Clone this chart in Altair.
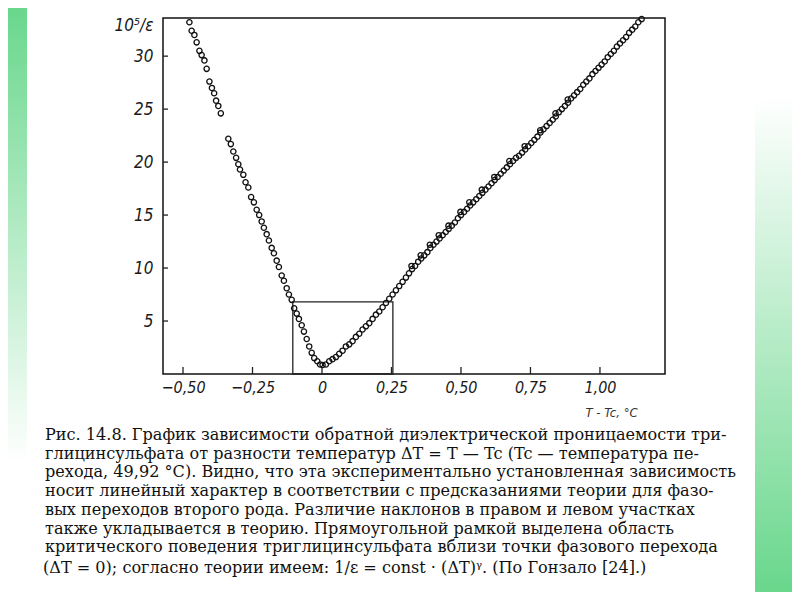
import altair as alt
import pandas as pd

# ---- data ----------------------------------------------------------------
left_dt = [-0.477, -0.469, -0.459, -0.451, -0.441, -0.433, -0.423, -0.415, -0.405, -0.396,
           -0.388, -0.381, -0.373, -0.364, -0.337, -0.328, -0.319, -0.309, -0.301, -0.295,
           -0.283, -0.275, -0.265, -0.255, -0.245, -0.235, -0.226, -0.217, -0.209, -0.199,
           -0.191, -0.181, -0.173, -0.163, -0.155, -0.145, -0.137, -0.127, -0.119, -0.109,
           -0.100, -0.091, -0.083, -0.073, -0.065, -0.055, -0.046, -0.037, -0.028, -0.017,
           -0.007, 0.002]
left_inv_eps = [33.2, 32.4, 32.0, 31.3, 30.5, 30.1, 29.6, 28.8, 27.6, 27.0,
                26.5, 25.8, 25.3, 24.6, 22.2, 21.7, 21.0, 20.4, 19.8, 19.3,
                18.8, 18.1, 17.6, 16.7, 16.2, 15.5, 15.0, 14.4, 13.8, 13.2,
                12.6, 11.9, 11.4, 10.7, 10.1, 9.3, 8.8, 8.1, 7.5, 7.0,
                6.2, 5.7, 5.2, 4.6, 4.0, 3.3, 2.6, 2.0, 1.5, 1.2,
                0.9, 0.85]

right_dt = [0.014, 0.026, 0.038, 0.050, 0.062, 0.074, 0.086, 0.098, 0.110, 0.122,
            0.134, 0.146, 0.158, 0.170, 0.182, 0.194, 0.206, 0.218, 0.230, 0.242,
            0.254, 0.266, 0.278, 0.290, 0.302, 0.313, 0.324, 0.322, 0.335, 0.346,
            0.357, 0.355, 0.368, 0.379, 0.390, 0.388, 0.401, 0.412, 0.423, 0.420,
            0.434, 0.445, 0.456, 0.455, 0.467, 0.478, 0.489, 0.500, 0.498, 0.511,
            0.522, 0.533, 0.530, 0.544, 0.555, 0.566, 0.577, 0.575, 0.588, 0.599,
            0.610, 0.621, 0.620, 0.632, 0.643, 0.654, 0.665, 0.676, 0.674, 0.687,
            0.698, 0.709, 0.720, 0.731, 0.729, 0.742, 0.753, 0.764, 0.775, 0.786,
            0.785, 0.797, 0.808, 0.819, 0.830, 0.841, 0.840, 0.852, 0.863, 0.874,
            0.885, 0.884, 0.896, 0.907, 0.918, 0.929, 0.940, 0.951, 0.962, 0.973,
            0.984, 0.995, 1.006, 1.017, 1.028, 1.039, 1.050, 1.061, 1.072, 1.083,
            1.094, 1.105, 1.116, 1.127, 1.138, 1.150]
right_inv_eps = [0.9, 1.2, 1.4, 1.6, 1.9, 2.2, 2.6, 2.8, 3.1, 3.5,
                 3.8, 4.2, 4.5, 4.8, 5.2, 5.6, 5.9, 6.3, 6.7, 7.1,
                 7.5, 7.9, 8.3, 8.7, 9.1, 9.5, 9.9, 10.2, 10.2, 10.6,
                 10.9, 11.2, 11.2, 11.5, 11.9, 12.2, 12.2, 12.5, 12.8, 13.1,
                 13.1, 13.4, 13.7, 14.0, 14.0, 14.3, 14.7, 15.0, 15.3, 15.3,
                 15.6, 15.9, 16.2, 16.2, 16.5, 16.8, 17.1, 17.4, 17.4, 17.7,
                 18.0, 18.3, 18.6, 18.6, 18.9, 19.2, 19.5, 19.8, 20.1, 20.1,
                 20.4, 20.6, 20.9, 21.2, 21.5, 21.5, 21.8, 22.1, 22.4, 22.8,
                 23.0, 23.1, 23.4, 23.7, 24.0, 24.3, 24.6, 24.7, 25.0, 25.3,
                 25.6, 25.9, 26.0, 26.3, 26.6, 26.9, 27.3, 27.6, 27.9, 28.3,
                 28.6, 28.9, 29.2, 29.5, 29.9, 30.2, 30.5, 30.9, 31.2, 31.5,
                 31.8, 32.2, 32.5, 32.8, 33.2, 33.5]

box_dt = [-0.105, 0.255]
box_inv_eps = [0.0, 6.8]

x_tick_vals = [-0.5, -0.25, 0.0, 0.25, 0.5, 0.75, 1.0]
x_tick_labels = ["−0,50", "−0,25", "0", "0,25", "0,50", "0,75", "1,00"]
y_tick_vals = [5, 10, 15, 20, 25, 30]

x_title = "T - Tc, °C"
y_title = "10⁵/ε"

caption_main = [
    "Рис. 14.8. График зависимости обратной диэлектрической проницаемости три-",
    "глицинсульфата от разности температур ΔT = T — Tc  (Tc — температура пе-",
    "рехода, 49,92 °С). Видно, что эта экспериментально установленная зависимость",
    "носит линейный характер в соответствии с предсказаниями теории для фазо-",
    "вых переходов второго рода. Различие наклонов в правом и левом участках",
    "также укладывается в теорию. Прямоугольной рамкой выделена область",
    "критического поведения триглицинсульфата вблизи точки фазового перехода",
]
caption_last = ["(ΔT = 0); согласно теории имеем: 1/ε = const · (ΔT)ᵞ. (По Гонзало [24].)"]

# ---- layout -----------------------------------------------------------------
W, H = 502, 356
X_DOMAIN = [-0.572, 1.234]
Y_DOMAIN = [0, 33.6]
LABEL_FONT = "DejaVu Sans Condensed, DejaVu Sans, sans-serif"
CAPTION_FONT = "DejaVu Serif, Liberation Serif, serif"

pts = pd.DataFrame({
    "dt": left_dt + right_dt,
    "inv": left_inv_eps + right_inv_eps,
})

label_expr = " : ".join(
    f"abs(datum.value - ({v})) < 1e-6 ? '{l}'" for v, l in zip(x_tick_vals, x_tick_labels)
) + " : ''"

xscale = alt.Scale(domain=X_DOMAIN, nice=False, zero=False)
yscale = alt.Scale(domain=Y_DOMAIN, nice=False, zero=False)

x_axis = alt.Axis(values=x_tick_vals, labelExpr=label_expr, ticks=False, domain=False, grid=False,
                  labelFont=LABEL_FONT, labelFontStyle="italic", labelFontSize=16,
                  labelColor="#1a1a1a", labelPadding=5, labelFlush=False,
                  title=x_title, titleFont=LABEL_FONT, titleFontStyle="italic",
                  titleFontWeight="normal", titleFontSize=13, titleColor="#333",
                  titleAnchor="start", titleX=422, titleY=38, titleBaseline="middle")
y_axis = alt.Axis(values=y_tick_vals, ticks=False, domain=False, grid=False,
                  labelFont=LABEL_FONT, labelFontStyle="italic", labelFontSize=17,
                  labelColor="#1a1a1a", labelPadding=10,
                  title=y_title, titleFont=LABEL_FONT, titleFontStyle="italic",
                  titleFontWeight="normal", titleFontSize=17, titleColor="#1a1a1a",
                  titleAngle=0, titleAlign="left", titleX=-49, titleY=7,
                  titleBaseline="middle")

points = alt.Chart(pts).mark_point(
    shape="circle", filled=False, size=28, strokeWidth=1.3, color="#111", opacity=1
).encode(
    x=alt.X("dt:Q", scale=xscale, axis=x_axis),
    y=alt.Y("inv:Q", scale=yscale, axis=y_axis),
)

box = alt.Chart(pd.DataFrame({"x": [box_dt[0]], "x2": [box_dt[1]],
                              "y": [box_inv_eps[0]], "y2": [box_inv_eps[1]]})).mark_rect(
    fill=None, fillOpacity=0, stroke="#222", strokeWidth=1.3
).encode(x="x:Q", x2="x2:Q", y="y:Q", y2="y2:Q")

xticks = alt.Chart(pd.DataFrame({"v": x_tick_vals})).mark_rule(
    color="#222", strokeWidth=1.3
).encode(x="v:Q", y=alt.value(H), y2=alt.value(H - 7))

yticks = alt.Chart(pd.DataFrame({"v": y_tick_vals})).mark_rule(
    color="#222", strokeWidth=1.3
).encode(y="v:Q", x=alt.value(0), x2=alt.value(5))

one = pd.DataFrame({"k": [0]})
green = "#69d78c"
left_strip = alt.Chart(one).mark_rect().encode(
    x=alt.value(-155), x2=alt.value(-136), y=alt.value(-10), y2=alt.value(574),
    color=alt.value({"gradient": "linear", "x1": 0, "y1": 0, "x2": 0, "y2": 1,
                     "stops": [{"offset": 0, "color": green},
                               {"offset": 0.78, "color": "#ffffff"}]}),
)
right_strip = alt.Chart(one).mark_rect().encode(
    x=alt.value(592), x2=alt.value(629), y=alt.value(-10), y2=alt.value(574),
    color=alt.value({"gradient": "linear", "x1": 0, "y1": 0, "x2": 0, "y2": 1,
                     "stops": [{"offset": 0.15, "color": "#ffffff"},
                               {"offset": 1, "color": green}]}),
)

cap1 = alt.Chart(one).mark_text(
    align="left", baseline="alphabetic", font=CAPTION_FONT, fontSize=16.1,
    lineHeight=18.7, color="#111"
).encode(x=alt.value(-118), y=alt.value(422), text=alt.value(caption_main))

cap2 = alt.Chart(one).mark_text(
    align="left", baseline="alphabetic", font=CAPTION_FONT, fontSize=16.1,
    color="#111"
).encode(x=alt.value(-120), y=alt.value(555), text=alt.value(caption_last))

chart = alt.layer(
    left_strip, right_strip, box, xticks, yticks, points, cap1, cap2
).properties(
    width=W, height=H,
    padding={"left": 155, "top": 10, "right": 127, "bottom": 218},
    autosize=alt.AutoSizeParams(type="none"),
    background="white",
).configure_view(
    stroke="#111", strokeWidth=1.5
)

chart.save("out.html", embed_options={"renderer": "svg", "actions": False})
